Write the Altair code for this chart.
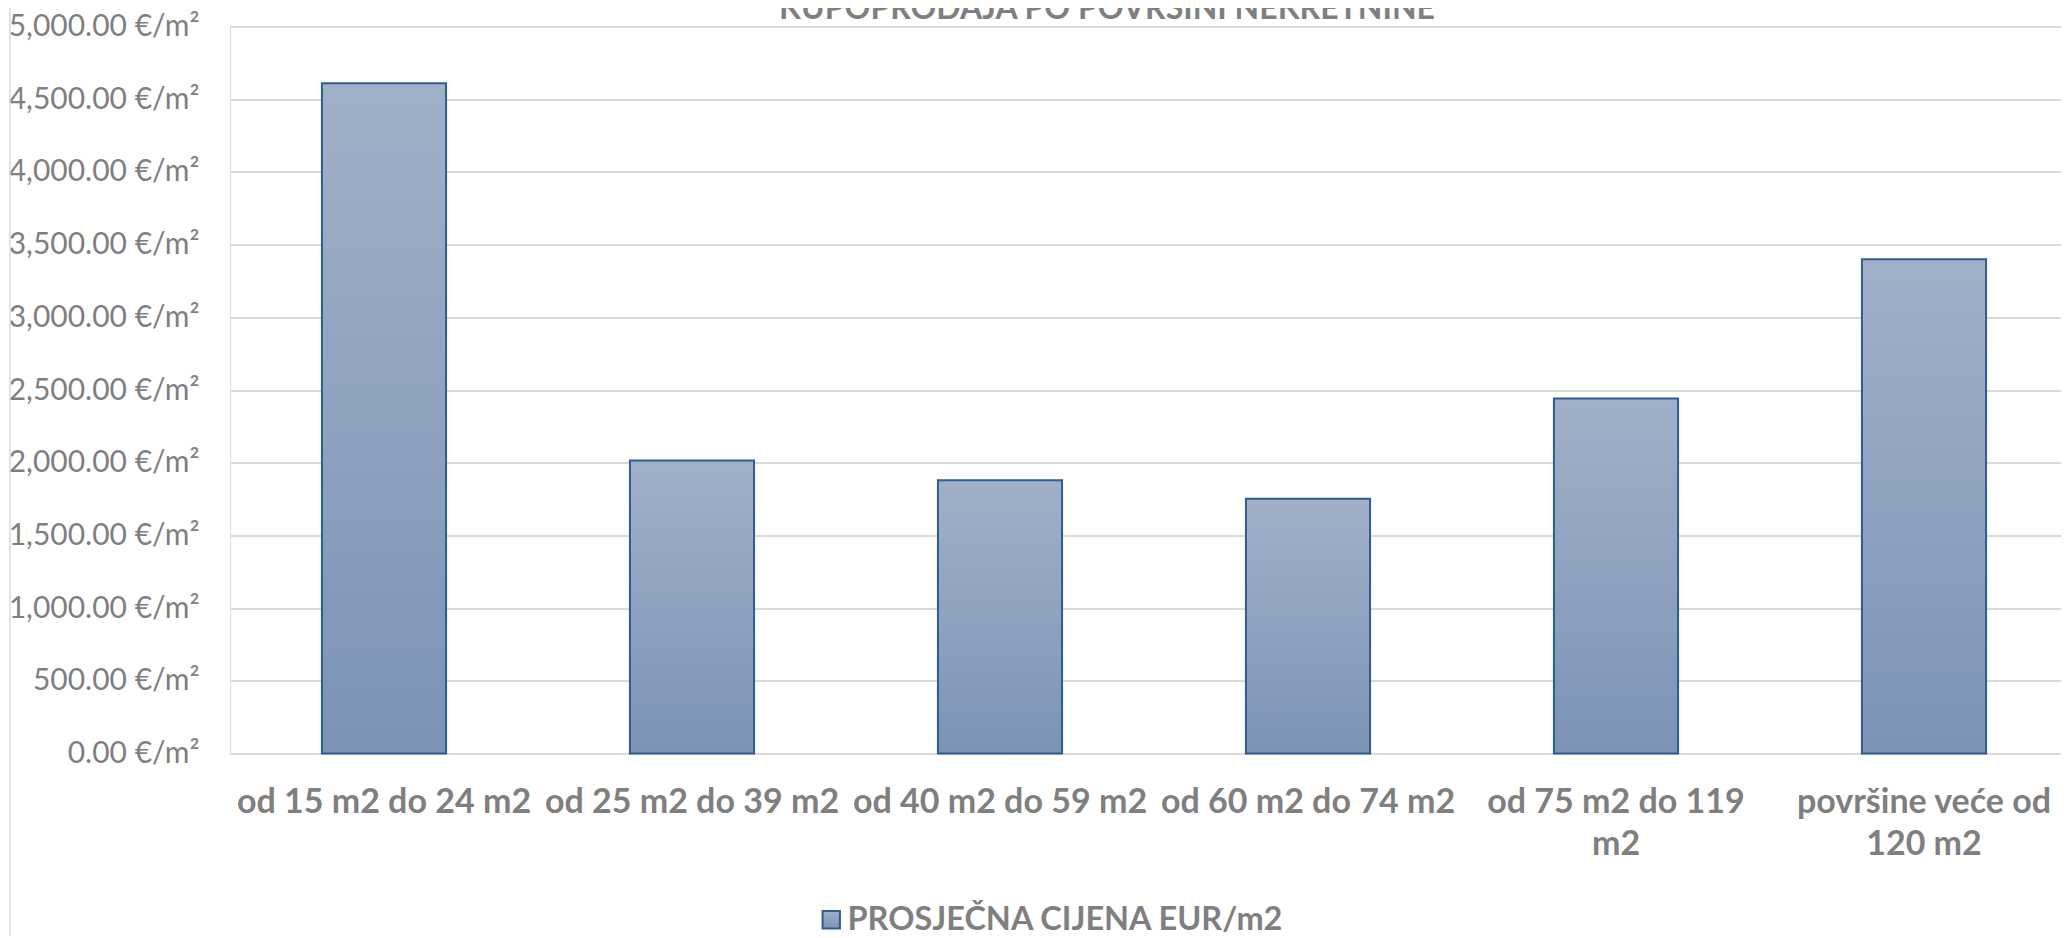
import json
import altair as alt
import pandas as pd

categories = ["od 15 m2 do 24 m2", "od 25 m2 do 39 m2", "od 40 m2 do 59 m2",
              "od 60 m2 do 74 m2", "od 75 m2 do 119 m2", "površine veće od 120 m2"]
label_lines = [["od 15 m2 do 24 m2"], ["od 25 m2 do 39 m2"], ["od 40 m2 do 59 m2"],
               ["od 60 m2 do 74 m2"], ["od 75 m2 do 119", "m2"], ["površine veće od", "120 m2"]]
values = [4610, 2015, 1880, 1752, 2442, 3400]
y_ticks = [0, 500, 1000, 1500, 2000, 2500, 3000, 3500, 4000, 4500, 5000]
series_name = "PROSJEČNA CIJENA EUR/m2"
title_text = "KUPOPRODAJA PO POVRŠINI NEKRETNINE"

df = pd.DataFrame({"kategorija": categories, "cijena": values, "serija": [series_name] * len(categories)})
title_df = pd.DataFrame({"naslov": [title_text]})

GRAY = "#7f7f7f"
FONT = "Lato"

label_expr = (f"{json.dumps(label_lines, ensure_ascii=False)}"
              f"[indexof({json.dumps(categories, ensure_ascii=False)}, datum.value)]")

gradient = alt.Gradient(
    gradient="linear", x1=0, x2=0, y1=0, y2=1,
    stops=[alt.GradientStop(color="#a1b0c9", offset=0),
           alt.GradientStop(color="#7c93b6", offset=1)],
)

bars = alt.Chart(df).mark_bar(fill=gradient, strokeWidth=2).encode(
    x=alt.X("kategorija:N", sort=categories, title=None,
            scale=alt.Scale(range=[0, 1848], paddingInner=0.597, paddingOuter=0.2985),
            axis=alt.Axis(labelExpr=label_expr, labelAngle=0, labelFont=FONT, labelFontSize=34,
                          labelFontWeight="bold", labelColor=GRAY, labelPadding=32,
                          labelLineHeight=42, ticks=False, domain=False, grid=False,
                          labelLimit=400)),
    y=alt.Y("cijena:Q", title=None,
            scale=alt.Scale(domain=[0, 5000], nice=False),
            axis=alt.Axis(values=y_ticks, labelExpr="format(datum.value, ',.2f') + ' €/m²'",
                          labelFont=FONT, labelFontSize=30, labelColor=GRAY, labelPadding=31,
                          ticks=False, domain=False, grid=True, gridColor="#d9d9d9",
                          gridWidth=2, labelLimit=400)),
    stroke=alt.Stroke("serija:N", scale=alt.Scale(range=["#2d5e8e"]),
                      legend=alt.Legend(title=None, orient="none", legendX=585, legendY=877,
                                        symbolType="square", symbolSize=300,
                                        symbolFillColor="#8fa2c0", symbolStrokeWidth=2,
                                        labelFont=FONT, labelFontSize=32.5, labelFontWeight="bold",
                                        labelColor=GRAY, labelOffset=0, labelLimit=800)),
)

title_mark = alt.Chart(title_df).mark_text(
    font=FONT, fontSize=32, fontWeight="bold", color=GRAY, align="center", baseline="alphabetic"
).encode(text="naslov:N", x=alt.value(877), y=alt.value(-8))

border = alt.Chart(pd.DataFrame({"a": [0]})).mark_rule(color="#d9d9d9", strokeWidth=1.5).encode(
    x=alt.value(-220), y=alt.value(-30), y2=alt.value(920)
)

chart = alt.layer(border, bars, title_mark).properties(
    width=1831, height=727,
    autosize=alt.AutoSizeParams(type="none"),
    padding={"left": 222, "top": 18.5, "right": 0, "bottom": 182},
).configure_view(stroke=None).configure(background="white")

chart.save("out.html", embed_options={"renderer": "svg", "actions": False})
